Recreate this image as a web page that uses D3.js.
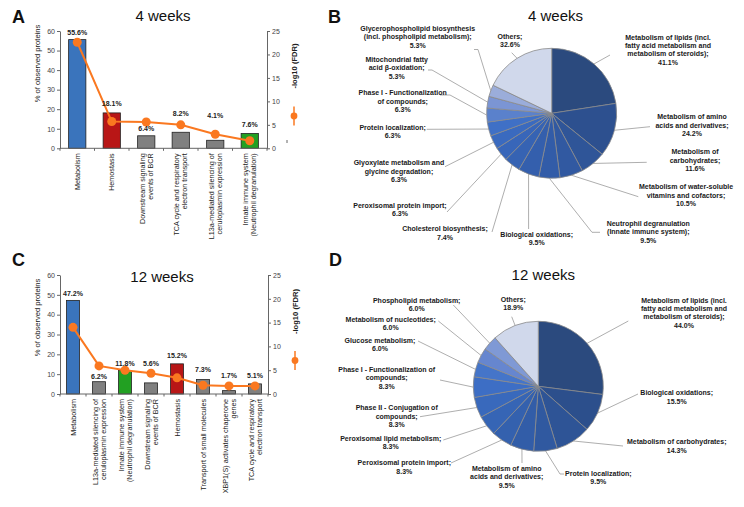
<!DOCTYPE html>
<html><head><meta charset="utf-8">
<script src="https://cdn.jsdelivr.net/npm/d3@7"></script>
<style>
body{margin:0;background:#fff}
svg{font-family:"Liberation Sans",Arial,Helvetica,sans-serif}
</style>
</head><body>
<svg id="chart" width="744" height="507"></svg>
<script>
// ---------------- DATA ----------------
const pctTicks = [0, 10, 20, 30, 40, 50, 60];
const fdrTicks = [0, 5, 10, 15, 20, 25];

const catsA = [["Metabolism"], ["Hemostasis"], ["Downstream signaling", "events of BCR"],
  ["TCA cycle and respiratory", "electron transport"], ["L13a-mediated silencing of", "ceruloplasmin expression"],
  ["Innate immune system", "(Neutrophil degranulation)"]];
const pctA = [55.6, 18.1, 6.4, 8.2, 4.1, 7.6];
const fdrA = [22.6, 5.7, 5.6, 5.0, 3.0, 1.6];
const kindA = ["metab", "hemo", "other", "other", "other", "immune"];

const catsC = [["Metabolism"], ["L13a-mediated silencing of", "ceruloplasmin expression"],
  ["Innate immune system", "(Neutrophil degranulation)"], ["Downstream signaling", "events of BCR"],
  ["Hemostasis"], ["Transport of small molecules"], ["XBP1(S) activates chaperone", "genes"],
  ["TCA cycle and respiratory", "electron transport"]];
const pctC = [47.2, 6.2, 11.8, 5.6, 15.2, 7.3, 1.7, 5.1];
const fdrC = [14.0, 5.9, 5.0, 4.35, 3.4, 1.85, 1.7, 1.7];
const kindC = ["metab", "other", "immune", "other", "hemo", "other", "other", "other"];

const pieNamesB = [["Metabolism of lipids (incl.", "fatty acid metabolism and", "metabolism of steroids);"],
  ["Metabolism of amino", "acids and derivatives;"], ["Metabolism of", "carbohydrates;"],
  ["Metabolism of water-soluble", "vitamins and cofactors;"], ["Neutrophil degranulation", "(Innate immune system);"],
  ["Biological oxidations;"], ["Cholesterol biosynthesis;"], ["Peroxisomal protein import;"],
  ["Glyoxylate metabolism and", "glycine degradation;"], ["Protein localization;"],
  ["Phase I - Functionalization", "of compounds;"], ["Mitochondrial fatty", "acid β-oxidation;"],
  ["Glycerophospholipid biosynthesis", "(incl. phospholipid metabolism);"], ["Others;"]];
const pieValsB = [41.1, 24.2, 11.6, 10.5, 9.5, 9.5, 7.4, 6.3, 6.3, 6.3, 6.3, 5.3, 5.3, 32.6];

const pieNamesD = [["Metabolism of lipids (incl.", "fatty acid metabolism and", "metabolism of steroids);"],
  ["Biological oxidations;"], ["Metabolism of carbohydrates;"], ["Protein localization;"],
  ["Metabolism of amino", "acids and derivatives;"], ["Peroxisomal protein import;"],
  ["Peroxisomal lipid metabolism;"], ["Phase II - Conjugation of", "compounds;"],
  ["Phase I - Functionalization of", "compounds;"], ["Glucose metabolism;"],
  ["Metabolism of nucleotides;"], ["Phospholipid metabolism;"], ["Others;"]];
const pieValsD = [44.0, 15.5, 14.3, 9.5, 9.5, 8.3, 8.3, 8.3, 8.3, 6.0, 6.0, 6.0, 18.9];

// ---------------- STYLE / LAYOUT ----------------
const barColor = {metab: "#3a74bc", hemo: "#b81616", other: "#808080", immune: "#22a022"};
const orange = "#fa7820";
const pieColorsB = ["#2b4a7e", "#2d508f", "#2f5598", "#3159a1", "#325ca8", "#345fad", "#3663b3",
  "#3866b9", "#3a6abf", "#3f70c6", "#5a81cc", "#7b95d4", "#9badda", "#d0d8eb"];
const pieColorsD = ["#2b4a7e", "#2c4f8c", "#2e5496", "#3059a0", "#325da8", "#3461ae", "#3665b5",
  "#3969bc", "#3d6ec5", "#4575c9", "#6686cf", "#7f99d5", "#d0d8eb"];

// label lift (px) above standard position for bar value labels
const liftA = [0, 2, 0, 11.8, 18, 1.5];
const liftC = [0, -1.4, 0, 12, 1, 3, 8, 1];

// pie label layout: [centerX, firstLineY, anchorX, anchorY, stub]
const labB = [[668, 37, 610, 55, 0], [692, 116.7, 650, 126.7, 0], [695, 151.7, 646.7, 162.3, 0],
  [686, 186.7, 638.3, 196.7, 0], [648.3, 223.3, 600, 232.3, -8], [536.7, 234.3, 528.6, 229, 0],
  [445, 228.7, 492, 232, 0], [400, 205, 447, 212, 0], [399, 162.7, 445, 166.7, 0],
  [392.7, 127.3, 426.7, 129.3, 0], [402.7, 92.7, 440, 95, 10], [396.7, 59.3, 428, 70, 4],
  [417.7, 28.3, 474, 49.5, 4], [510, 36, 511.7, 52.7, 0]];
const labD = [[684, 300, 628.3, 321, 0], [676.7, 392.7, 638, 394, 0], [676.7, 441.7, 623, 446, 0],
  [598.3, 473.3, 564, 474, -4], [506.7, 468.3, 522, 463, 0], [404.3, 462.7, 451, 463, 0],
  [390.7, 438.3, 443.3, 440, 0], [396.7, 407.7, 420, 416.7, 0], [386.7, 369.3, 440, 380, 0],
  [380, 340, 418, 341, 0], [390.7, 319.3, 438.3, 321, 0], [416.7, 300, 453.3, 305, 0],
  [513.3, 299.3, 511.7, 316.7, 0]];

const svg = d3.select("#chart");

// titles & panel letters
const texts = [
  ["A", 12, 22.5, 18, "bold", "start"], ["B", 328, 23, 18, "bold", "start"],
  ["C", 12, 266, 18, "bold", "start"], ["D", 329, 266, 18, "bold", "start"],
  ["4 weeks", 163, 20.5, 15, "normal", "middle"], ["4 weeks", 555.5, 20.7, 15, "normal", "middle"],
  ["12 weeks", 162, 281.5, 15, "normal", "middle"], ["12 weeks", 543.3, 280, 15, "normal", "middle"]];
svg.selectAll("text.title").data(texts).join("text").attr("class", "title")
  .attr("x", d => d[1]).attr("y", d => d[2]).attr("font-size", d => d[3])
  .attr("font-weight", d => d[4]).attr("text-anchor", d => d[5]).attr("fill", "#111").text(d => d[0]);

function drawBar(cfg) {
  const g = svg.append("g");
  const n = cfg.cats.length;
  const x = d3.scaleBand().domain(d3.range(n)).range([cfg.x0, cfg.x1]).paddingInner(0.5).paddingOuter(0.25);
  const y = d3.scaleLinear().domain([0, 60]).range([cfg.yb, cfg.yt]);
  const y2 = d3.scaleLinear().domain([0, 25]).range([cfg.yb, cfg.yt]);
  const axisCol = "#666";

  // bars
  g.selectAll("rect").data(cfg.pct).join("rect")
    .attr("x", (d, i) => x(i)).attr("width", x.bandwidth())
    .attr("y", d => y(d)).attr("height", d => y(0) - y(d))
    .attr("fill", (d, i) => barColor[cfg.kind[i]]).attr("stroke", "#222").attr("stroke-width", 0.8);

  // axes
  const la = g.append("g").attr("transform", `translate(${cfg.x0},0)`)
    .call(d3.axisLeft(y).tickValues(pctTicks).tickSize(3).tickPadding(2).tickSizeOuter(0));
  const ra = g.append("g").attr("transform", `translate(${cfg.x1},0)`)
    .call(d3.axisRight(y2).tickValues(fdrTicks).tickSize(3).tickPadding(2).tickSizeOuter(0));
  [la, ra].forEach(a => {
    a.select(".domain").attr("stroke", axisCol).attr("stroke-width", 1);
    a.selectAll(".tick line").attr("stroke", axisCol);
    a.selectAll(".tick text").attr("font-size", 7).attr("fill", "#444").attr("font-family", "Liberation Sans, Arial, sans-serif");
  });

  // bottom axis line and boundary ticks
  g.append("line").attr("x1", cfg.x0).attr("x2", cfg.x1).attr("y1", cfg.yb).attr("y2", cfg.yb)
    .attr("stroke", axisCol).attr("stroke-width", 1);
  g.selectAll("line.bt").data(d3.range(n + 1)).join("line").attr("class", "bt")
    .attr("x1", i => cfg.x0 + i * x.step()).attr("x2", i => cfg.x0 + i * x.step())
    .attr("y1", cfg.yb).attr("y2", cfg.yb + 2.5).attr("stroke", axisCol);

  // category labels (rotated)
  const lh = 8;
  cfg.cats.forEach((lines, i) => {
    const cx = x(i) + x.bandwidth() / 2;
    const t = g.append("text").attr("transform", `translate(${cx},${cfg.yb + 5}) rotate(-90)`)
      .attr("text-anchor", "end").attr("font-size", 7.2).attr("fill", "#1a1a1a");
    lines.forEach((s, k) => {
      t.append("tspan").attr("x", 0).attr("y", (k - (lines.length - 1) / 2) * lh)
        .attr("dominant-baseline", "central").text(s);
    });
  });

  // orange line
  const line = d3.line().x((d, i) => x(i) + x.bandwidth() / 2).y(d => y2(d));
  g.append("path").datum(cfg.fdr).attr("d", line).attr("fill", "none").attr("stroke", orange).attr("stroke-width", 2);
  g.selectAll("circle.pt").data(cfg.fdr).join("circle").attr("class", "pt")
    .attr("cx", (d, i) => x(i) + x.bandwidth() / 2).attr("cy", d => y2(d)).attr("r", 4.5).attr("fill", orange);

  // value labels
  g.selectAll("text.val").data(cfg.pct).join("text").attr("class", "val")
    .attr("x", (d, i) => x(i) + x.bandwidth() / 2).attr("y", (d, i) => y(d) - 7 - cfg.lift[i])
    .attr("dominant-baseline", "central").attr("text-anchor", "middle")
    .attr("font-size", 7).attr("font-weight", "bold").attr("fill", "#222").text(d => d.toFixed(1) + "%");

  // axis titles
  g.append("text").attr("transform", `translate(${cfg.ylx},${cfg.ylc}) rotate(-90)`)
    .attr("text-anchor", "middle").attr("dominant-baseline", "central")
    .attr("font-size", 7.6).attr("fill", "#222").text("% of observed  proteins");
  g.append("text").attr("transform", `translate(${cfg.y2lx},${cfg.y2lc}) rotate(-90)`)
    .attr("text-anchor", "middle").attr("dominant-baseline", "central")
    .attr("font-size", 7.6).attr("font-weight", "bold").attr("fill", "#222").text("-log10 (FDR)");

  // legend symbol
  g.append("line").attr("x1", cfg.lgx).attr("x2", cfg.lgx).attr("y1", cfg.lgy - 9.5).attr("y2", cfg.lgy + 9.5)
    .attr("stroke", orange).attr("stroke-width", 1.5);
  g.append("circle").attr("cx", cfg.lgx).attr("cy", cfg.lgy).attr("r", 3.4).attr("fill", orange);
  if (cfg.mark) {
    g.append("line").attr("x1", cfg.mark[0]).attr("x2", cfg.mark[0]).attr("y1", cfg.mark[1]).attr("y2", cfg.mark[1] + 3)
      .attr("stroke", "#666").attr("stroke-width", 1);
  }
}

drawBar({cats: catsA, pct: pctA, fdr: fdrA, kind: kindA, lift: liftA, x0: 60, x1: 267, yt: 31, yb: 148.3,
  ylx: 37, ylc: 63.5, y2lx: 294.5, y2lc: 66, lgx: 294, lgy: 116, mark: [287, 140]});
drawBar({cats: catsC, pct: pctC, fdr: fdrC, kind: kindC, lift: liftC, x0: 60, x1: 268, yt: 275, yb: 394,
  ylx: 37, ylc: 317.5, y2lx: 295, y2lc: 311.5, lgx: 295, lgy: 360.5});

function drawPie(cfg) {
  const g = svg.append("g");
  const r = 65;
  const arcs = d3.pie().sort(null).value(d => d)(cfg.vals);
  const arc = d3.arc().innerRadius(0).outerRadius(r);
  g.append("g").attr("transform", `translate(${cfg.cx},${cfg.cy})`)
    .selectAll("path").data(arcs).join("path").attr("d", arc)
    .attr("fill", (d, i) => cfg.colors[i]).attr("stroke", "#8a8a8a").attr("stroke-width", 0.8);

  arcs.forEach((a, i) => {
    const mid = (a.startAngle + a.endAngle) / 2;
    const ex = cfg.cx + r * Math.sin(mid), ey = cfg.cy - r * Math.cos(mid);
    const L = cfg.lab[i];
    const pts = [[ex, ey]];
    if (L[4]) pts.push([L[2] + L[4], L[3]]);
    pts.push([L[2], L[3]]);
    g.append("path").attr("d", d3.line()(pts)).attr("fill", "none").attr("stroke", "#999").attr("stroke-width", 0.8);
    const lines = cfg.names[i].concat([a.data.toFixed(1) + "%"]);
    const t = g.append("text").attr("text-anchor", "middle").attr("font-size", 7)
      .attr("font-weight", "bold").attr("fill", "#1a1a1a");
    lines.forEach((s, k) => {
      t.append("tspan").attr("x", L[0]).attr("y", L[1] + k * 8.35).attr("dominant-baseline", "central").text(s);
    });
  });
}

drawPie({cx: 551.7, cy: 113.3, vals: pieValsB, names: pieNamesB, colors: pieColorsB, lab: labB});
drawPie({cx: 538.3, cy: 386.3, vals: pieValsD, names: pieNamesD, colors: pieColorsD, lab: labD});
</script>
</body></html>
